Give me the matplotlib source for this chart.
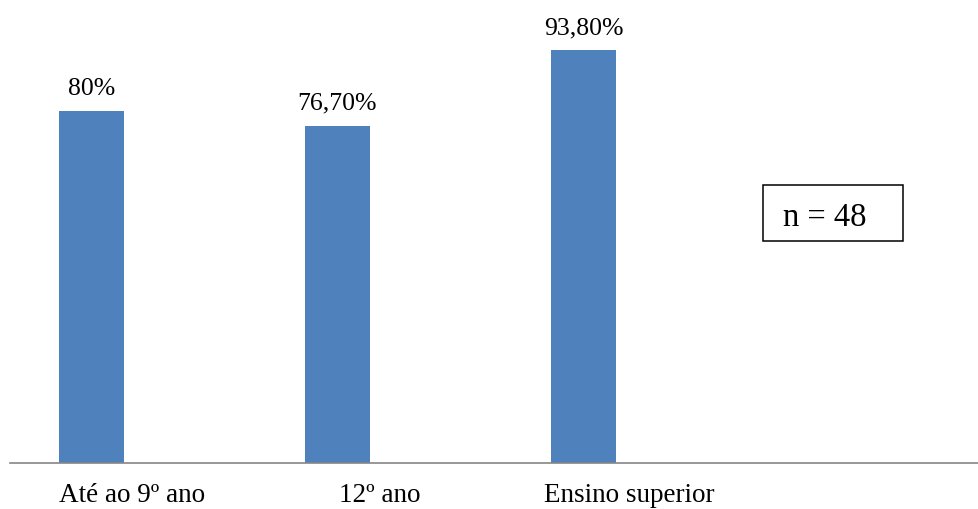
import matplotlib
matplotlib.use('Agg')
import matplotlib.pyplot as plt
from matplotlib.patches import Rectangle

# dados
categorias = ['Até ao 9º ano', '12º ano', 'Ensino superior']
valores = [80, 76.7, 93.8]
rotulos = ['80%', '76,70%', '93,80%']
amostra = 'n = 48'

plt.rcParams['font.family'] = ['Liberation Serif', 'DejaVu Serif']

W, H = 979, 510
fig = plt.figure(figsize=(W / 100, H / 100), dpi=100)
ax = fig.add_axes([10 / W, (H - 464) / H, 1 - 10 / W, (464 - 24) / H])

pos = list(range(len(categorias)))
ax.bar(pos, valores, width=65 / 246, color='#4F81BD', zorder=2)
ax.set_xlim(-81.5 / 246, (W - 91.5) / 246)
ax.set_ylim(0, 100)

# rótulos de valor
for p, v, r in zip(pos, valores, rotulos):
    ax.annotate(r, (p, v), xytext=(0, 12.2), textcoords='offset points',
                ha='center', va='baseline', fontsize=18.5, annotation_clip=False)

# categorias (deslocadas para a direita como no original)
desloc = [0.163, 0.171, 0.185]
for p, c, d in zip(pos, categorias, desloc):
    ax.annotate(c, (p + d, 0), xycoords=('data', 'axes fraction'),
                xytext=(0, -27.4), textcoords='offset points',
                ha='center', va='baseline', fontsize=19.5, annotation_clip=False)

for s in ['top', 'right', 'left']:
    ax.spines[s].set_visible(False)
ax.spines['bottom'].set_color('#868686')
ax.spines['bottom'].set_linewidth(1.2)
ax.set_xticks([])
ax.set_yticks([])

# caixa n = 48
fig.add_artist(Rectangle((763 / W, (H - 242) / H), 140 / W, 56 / H,
                         transform=fig.transFigure, fill=False,
                         edgecolor='black', linewidth=1.1))
fig.text(783 / W, (H - 226) / H, amostra, ha='left', va='baseline', fontsize=23.5)

fig.savefig('out.png', dpi=100)
